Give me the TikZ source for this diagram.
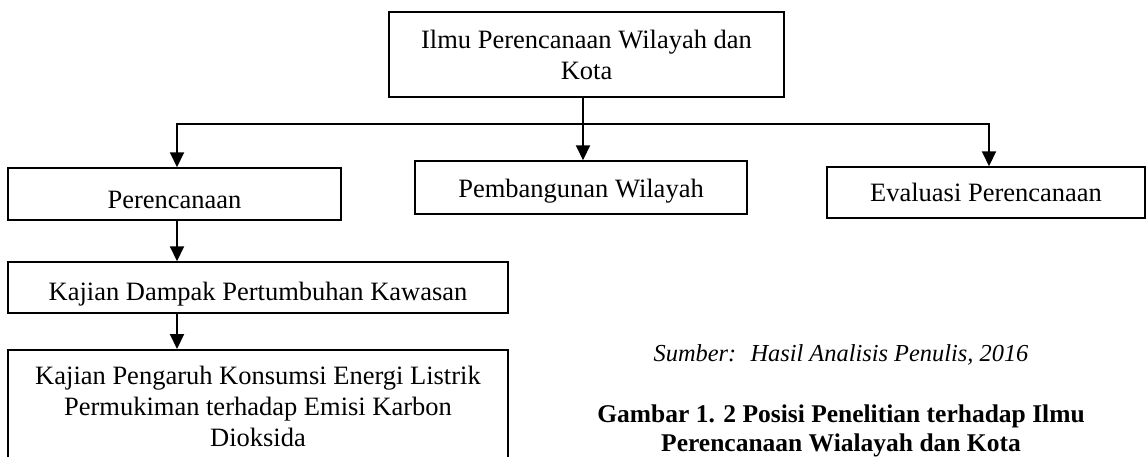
\documentclass[tikz,border=0pt]{standalone}
\usepackage{fontspec}
\setmainfont{Liberation Serif}
\usetikzlibrary{arrows.meta}
\newcommand\bodyfnt{\fontsize{26.5}{31}\selectfont}
\newcommand\srcfnt{\fontsize{24.4}{28}\selectfont\itshape}
\newcommand\capfnt{\fontsize{25.5}{29}\selectfont\bfseries}
\begin{document}
\begin{tikzpicture}[x=1pt,y=-1pt,
  box/.style={draw, line width=1.5pt, inner sep=0pt, font=\bodyfnt},
  arr/.style={line width=2pt, -{Triangle[length=15pt,width=14pt]}},
  ln/.style={line width=2pt}]
\useasboundingbox (0,0) rectangle (1147,456);
% boxes
\node[box, minimum width=395pt, minimum height=85pt, align=center] (top) at (586.5,54.5) {Ilmu Perencanaan Wilayah dan\\Kota};
\node[box, minimum width=333pt, text height=40pt, text depth=12pt] (pere) at (174.5,194) {Perencanaan};
\node[box, minimum width=332pt, text height=36pt, text depth=17pt] (pemb) at (581,187.5) {Pembangunan Wilayah};
\node[box, minimum width=318pt, text height=34.5pt, text depth=16.5pt] (eval) at (986,192.5) {Evaluasi Perencanaan};
\node[box, minimum width=500pt, text height=38pt, text depth=13pt] (kaj) at (258,287.5) {Kajian Dampak Pertumbuhan Kawasan};
\node[box, minimum width=500pt, anchor=north, align=center, inner ysep=16pt] (kpe) at (258,349) {Kajian Pengaruh Konsumsi Energi Listrik\\Permukiman terhadap Emisi Karbon\\Dioksida};
% connectors
\coordinate (hl) at (177,124);
\coordinate (hm) at (583,124);
\coordinate (hr) at (989,124);
\draw[arr] (top.south -| hm) -- (pemb.north -| hm);
\draw[arr] (hm) -| (pere.north -| hl);
\draw[arr] (hm) -| (eval.north -| hr);
\draw[arr] (pere.south -| hl) -- (kaj.north -| hl);
\draw[arr] (kaj.south -| hl) -- (kpe.north -| hl);
% source and caption
\node[font=\srcfnt, anchor=base, inner sep=0pt] (src) at (841,361) {Sumber:~ Hasil Analisis Penulis, 2016};
\node[font=\capfnt, align=center, anchor=north, inner sep=0pt] (cap) at (841,405) {Gambar 1. 2 Posisi Penelitian terhadap Ilmu\\Perencanaan Wialayah dan Kota};
\end{tikzpicture}
\end{document}
